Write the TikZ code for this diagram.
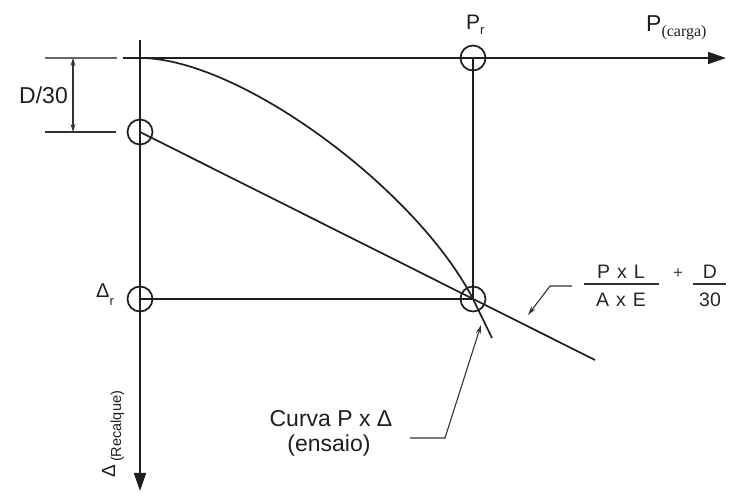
\documentclass[tikz,border=0pt]{standalone}
\usepackage{fontspec}
\setmainfont{Liberation Sans}
\newfontfamily\cargafont{Liberation Serif}
\usetikzlibrary{arrows.meta}
\newcommand{\lowsub}[2]{\raisebox{-#1}{\fontsize{13}{13}\selectfont #2}}
\begin{document}
\begin{tikzpicture}[x=1pt,y=-1pt,
  ln/.style={line width=1.7pt, draw=black!88},
  thinln/.style={line width=1.1pt, draw=black!80},
  ring/.style={circle, draw=black!88, line width=1.7pt, minimum size=25pt, inner sep=0pt},
  axisarrow/.style={-{Triangle[length=18pt,width=12pt]}},
  leadarrow/.style={-{Stealth[length=9pt,width=5pt]}},
  dimarrow/.style={{Stealth[length=8pt,width=5pt]}-{Stealth[length=8pt,width=5pt]}},
  lbl/.style={font=\fontsize{23}{26}\selectfont, inner sep=0pt, text=black!88},
  flbl/.style={font=\fontsize{19.5}{22}\selectfont, inner sep=0pt, text=black!85},
]
\useasboundingbox (0,0) rectangle (732,497);

% axes
\coordinate (vtop) at (140,40);
\coordinate (vbot) at (140,491);
\coordinate (hleft) at (123,58);
\coordinate (hright) at (726,58);
\coordinate (O) at (140,58);
\draw[ln, axisarrow] (vtop) -- (vbot);
\draw[ln, axisarrow] (hleft) -- (hright);

% rings
\node[ring] (cPr) at (473,58) {};
\node[ring] (cD) at (140,132) {};
\node[ring] (cDr) at (140,299) {};
\node[ring] (cX) at (473,299) {};

\coordinate (lineEnd) at (595,360);
\coordinate (curveEnd) at (492,338);

\draw[ln] (cPr.center) -- (cX.center);
\draw[ln] (cDr.center) -- (cX.center);
\draw[ln] (cD.center) -- (lineEnd);
\draw[ln] (O) .. controls (240,58) and (417,190) .. (cX.center) -- (curveEnd);

% D/30 dimension
\coordinate (d1a) at (45,58);
\coordinate (d1b) at (117,58);
\coordinate (d2a) at (45,132);
\coordinate (d2b) at (116,132);
\coordinate (da) at (73,58);
\coordinate (db) at (73,132);
\draw[thinln, draw=black!60] (d1a) -- (d1b);
\draw[thinln] (d2a) -- (d2b);
\draw[thinln, dimarrow] (da) -- (db);
\node[lbl, anchor=east] (tD30) at (68,95) {D/30};

% axis labels
\node[font=\fontsize{21}{24}\selectfont, inner sep=0pt, anchor=base west, text=black!88] (tPr) at (466,30) {P\lowsub{5pt}{r}};
\node[lbl, anchor=base west] (tP) at (646,32) {P\raisebox{-5pt}{\cargafont\fontsize{16}{16}\selectfont (carga)}};
\node[font=\fontsize{20}{24}\selectfont, inner sep=0pt, anchor=base west, text=black!88] (tDr) at (96,298) {Δ\lowsub{8pt}{r}};
\node[font=\fontsize{19}{22}\selectfont, inner sep=0pt, anchor=base west, rotate=90, text=black!88] (tDelta) at (115,478) {Δ\,\raisebox{-6pt}{\fontsize{14.5}{15}\selectfont (Recalque)}};

% curve label
\node[lbl, anchor=base] (tCurva) at (331,427) {Curva P x Δ};
\node[lbl, anchor=base] (tEnsaio) at (329,452) {(ensaio)};
\coordinate (lc1) at (410,438);
\coordinate (lc2) at (445,438);
\coordinate (lc3) at (481,325);
\draw[thinln, leadarrow] (lc1) -- (lc2) -- (lc3);

% formula
\node[flbl] (num) at (621,272) {P\hspace{7pt}x\hspace{7pt}L};
\node[flbl] (den) at (621,300) {A\hspace{7pt}x\hspace{7pt}E};
\coordinate (barAl) at (584,284);
\coordinate (barAr) at (659,284);
\draw[line width=1.5pt, draw=black!80] (barAl) -- (barAr);
\node[font=\fontsize{17}{20}\selectfont, inner sep=0pt, text=black!75] (plus) at (678,274) {+};
\node[flbl] (numD) at (710,272) {D};
\node[flbl] (den30) at (710,300) {30};
\coordinate (barBl) at (693,284);
\coordinate (barBr) at (726,284);
\draw[line width=1.5pt, draw=black!80] (barBl) -- (barBr);
\coordinate (lf1) at (572,286);
\coordinate (lf2) at (550,286);
\coordinate (lf3) at (528,315);
\draw[thinln, leadarrow] (lf1) -- (lf2) -- (lf3);
\end{tikzpicture}
\end{document}
